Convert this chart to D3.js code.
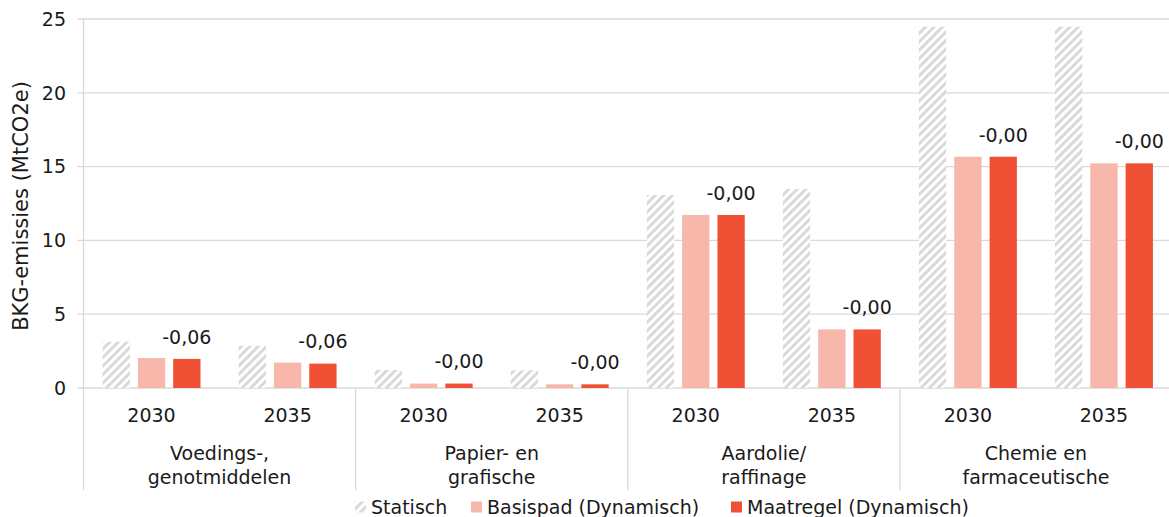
<!DOCTYPE html>
<html><head><meta charset="utf-8">
<script src="https://cdn.jsdelivr.net/npm/d3@7"></script>
<style>body{margin:0;background:#fff;} text{font-family:"DejaVu Sans",sans-serif;fill:#1a1a1a;}</style>
</head><body><svg id="c" width="1169" height="517"></svg>
<script>
const categories = [["Voedings-,","genotmiddelen"],["Papier- en","grafische"],["Aardolie/","raffinage"],["Chemie en","farmaceutische"]];
const years = ["2030","2035"];
const seriesNames = ["Statisch","Basispad (Dynamisch)","Maatregel (Dynamisch)"];
// values per category, per year
const statisch  = [[3.14,2.85],[1.22,1.2],[13.08,13.48],[24.48,24.48]];
const basispad  = [[2.03,1.72],[0.3,0.25],[11.72,3.97],[15.67,15.22]];
const maatregel = [[1.97,1.65],[0.3,0.25],[11.72,3.97],[15.67,15.22]];
const labels    = [["-0,06","-0,06"],["-0,00","-0,00"],["-0,00","-0,00"],["-0,00","-0,00"]];
const yTicks = [0,5,10,15,20,25];

const svg = d3.select("#c");
const L=83.5, R=1172, T=19, B=388;
const FS=19;
const y = d3.scaleLinear().domain([0,25]).range([B,T]);
const xCat = d3.scaleBand().domain(d3.range(4)).range([L,R]).padding(0);
const xYear = d3.scaleBand().domain(d3.range(2)).range([0,xCat.bandwidth()]).padding(0);
const xSer = d3.scaleBand().domain(d3.range(3)).range([0,xYear.bandwidth()]).paddingInner(0.227).paddingOuter(0.54);

const defs = svg.append("defs");
const pat = defs.append("pattern").attr("id","hatch").attr("patternUnits","userSpaceOnUse")
  .attr("width",6).attr("height",6).attr("patternTransform","rotate(45)");
pat.append("rect").attr("width",6).attr("height",6).attr("fill","#fff");
pat.append("rect").attr("width",3).attr("height",6).attr("fill","#d9d9d9");

const colors = ["url(#hatch)","#F7B7AB","#F05033"];

// grid
svg.append("g").selectAll("line").data(yTicks).join("line")
  .attr("x1",L-6).attr("x2",R).attr("y1",d=>y(d)).attr("y2",d=>y(d))
  .attr("stroke","#d9d9d9").attr("stroke-width",1.3);
svg.append("line").attr("x1",L).attr("x2",L).attr("y1",T).attr("y2",B).attr("stroke","#d9d9d9").attr("stroke-width",1.3);
svg.append("g").selectAll("text").data(yTicks).join("text")
  .attr("x",66).attr("y",d=>y(d)).attr("dy","0.36em").attr("text-anchor","end")
  .attr("font-size",FS).text(d=>d);

// separators
svg.append("g").selectAll("line").data(d3.range(4)).join("line")
  .attr("x1",d=>xCat(d)).attr("x2",d=>xCat(d))
  .attr("y1",B).attr("y2",490).attr("stroke","#d9d9d9").attr("stroke-width",1.3);

const all = [statisch,basispad,maatregel];
const bars = [];
categories.forEach((c,ci)=>years.forEach((yr,yi)=>all.forEach((s,si)=>{
  bars.push({ci,yi,si,v:s[ci][yi]});
})));
svg.append("g").selectAll("rect").data(bars).join("rect")
  .attr("x",d=>xCat(d.ci)+xYear(d.yi)+xSer(d.si))
  .attr("width",xSer.bandwidth())
  .attr("y",d=>y(d.v)).attr("height",d=>y(0)-y(d.v))
  .attr("fill",d=>colors[d.si]);

// data labels
const lab=[];
categories.forEach((c,ci)=>years.forEach((yr,yi)=>lab.push({ci,yi,t:labels[ci][yi],v:maatregel[ci][yi]})));
svg.append("g").selectAll("text").data(lab).join("text")
  .attr("x",d=>xCat(d.ci)+xYear(d.yi)+xSer(2)+xSer.bandwidth()/2)
  .attr("y",d=>y(d.v)-22).attr("dy","0.36em").attr("text-anchor","middle")
  .attr("font-size",FS).text(d=>d.t);

// x labels
const yl=[];
categories.forEach((c,ci)=>years.forEach((yr,yi)=>yl.push({ci,yi,yr})));
svg.append("g").selectAll("text").data(yl).join("text")
  .attr("x",d=>xCat(d.ci)+xYear(d.yi)+xYear.bandwidth()/2).attr("y",422)
  .attr("text-anchor","middle").attr("font-size",FS).text(d=>d.yr);
const cg = svg.append("g").selectAll("text").data(categories).join("text")
  .attr("x",(d,i)=>xCat(i)+xCat.bandwidth()/2).attr("text-anchor","middle").attr("font-size",FS);
cg.append("tspan").attr("x",(d,i)=>xCat(i)+xCat.bandwidth()/2).attr("y",460).text(d=>d[0]);
cg.append("tspan").attr("x",(d,i)=>xCat(i)+xCat.bandwidth()/2).attr("y",484).text(d=>d[1]);

// y title
svg.append("text").attr("transform","translate(20,206) rotate(-90)").attr("text-anchor","middle")
  .attr("dy","0.36em").attr("font-size",21).text("BKG-emissies  (MtCO2e)");

// legend
const legX=[355,471,731];
const lg = svg.append("g").selectAll("g").data(seriesNames).join("g")
  .attr("transform",(d,i)=>`translate(${legX[i]},507)`);
lg.append("rect").attr("x",0).attr("y",-5.5).attr("width",11).attr("height",11).attr("fill",(d,i)=>colors[i]);
lg.append("text").attr("x",16).attr("y",0).attr("dy","0.36em").attr("font-size",FS).text(d=>d);
</script></body></html>
